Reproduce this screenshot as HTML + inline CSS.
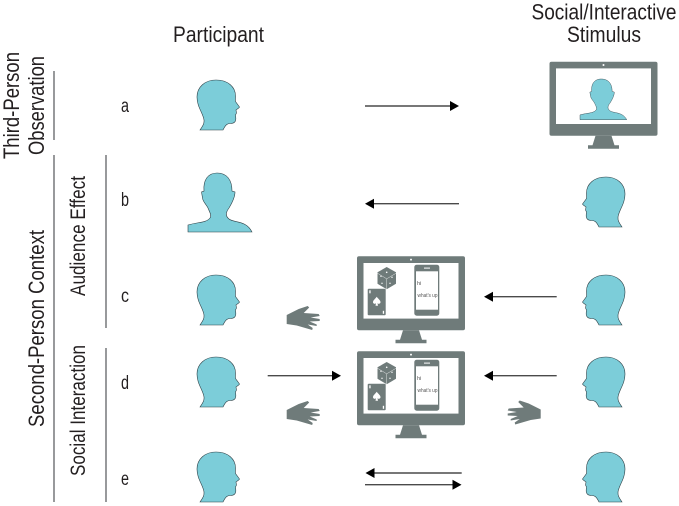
<!DOCTYPE html>
<html><head><meta charset="utf-8">
<style>html,body{margin:0;padding:0;background:#fff}svg{display:block}
text{font-family:"Liberation Sans Narrow","Liberation Sans",sans-serif;fill:#231f20}
.t{font-size:22.5px}.m{font-size:21px}.l{font-size:19px}
.v{stroke:#6d6e71;stroke-width:1.4;fill:none}
.h{fill:#7ccdd9;stroke:#2f4046;stroke-width:.6}
.g{fill:#6f7b7a}.a{stroke:#4a4a4a;stroke-width:1.4}</style></head>
<body>
<svg width="679" height="506" viewBox="0 0 679 506" xmlns="http://www.w3.org/2000/svg">
<defs>
<path id="head" class="h" d="M3,50C5,47 7.5,44 7,40C6,33 0,27 0,17C0,7 8,0 19,0C31,0 38.5,7 38.5,16C38.5,18 38.3,20 38.5,21.5L42.5,27C42,28.5 40,29 39,30L39.5,33L38.5,35L38.8,38C39,42 37,43.5 33,43.5C30,43.5 28.5,45 26,50Z"/>
<path id="bust" class="h" d="M0,59L0,52C10,49 18,50 22,45C24,42 21,38 20,35C18,31 15,29 14.5,25L13.5,19L16,18C15,7 20,0 29,0C39,0 44,7 44,18L47,19C47,24 44,30 41,35C38,39 37,43 41,46C46,50 58,47 64,59Z"/>
<path id="hand" class="g" d="M0,9L12,3L21,0L22.5,1.5L17,7L32,8L33,10L24,11.5L33,13L33,15L23,15.5L30,18.5L30,20L21,18.5L26,22L25.5,24L10,19.5L0,18Z"/>
<g id="mon">
<rect x="0" y="0" width="108" height="74" rx="2" class="g"/>
<rect x="6.5" y="6.7" width="95" height="55.6" fill="#fff"/>
<circle cx="54" cy="3.3" r="1" fill="#fff"/>
<path class="g" d="M46,74H62L65,83.5H69.5V87H38.5V83.5H43Z"/>
</g>
<g id="cont">
<path class="g" d="M29.7,10.7L39,16V27.5L29.7,33L20.5,27.5V16Z"/>
<g fill="#fff"><circle cx="29.7" cy="16" r=".8"/><circle cx="24" cy="20" r=".7"/><circle cx="25" cy="27" r=".7"/><circle cx="35" cy="21" r=".7"/><circle cx="33" cy="27" r=".7"/></g>
<path d="M20.5,17L29.7,22.5L39,17M29.7,22.5V33" stroke="#fff" stroke-width=".4" fill="none"/>
<rect x="10.7" y="32.4" width="18" height="26.6" rx="1" class="g"/>
<path fill="#fff" d="M19.7,40.5C21.5,43 23.5,44 23.5,46C23.5,47.5 21.5,48 20.5,47L21,49.5H18.5L19,47C18,48 16,47.5 16,46C16,44 18,43 19.7,40.5Z"/>
<g fill="#fff"><rect x="12.3" y="34" width="1.3" height="3"/><rect x="25.8" y="54.5" width="1.3" height="3"/></g>
<rect x="57.3" y="8.4" width="25" height="51" rx="2.5" class="g"/>
<rect x="59" y="15" width="22" height="38.4" fill="#fff"/>
<rect x="67" y="11.3" width="6" height="1" fill="#fff"/>
<text x="60" y="28.5" style="font-size:5.5px;fill:#555">hi</text>
<text x="60.5" y="40.5" textLength="20" lengthAdjust="spacingAndGlyphs" style="font-size:5.5px;fill:#555">what's up</text>
</g>
<polygon id="ar" points="0,-5 9,0 0,5" fill="#000"/>
</defs>

<!-- headers -->
<text class="t" x="173" y="42" textLength="91" lengthAdjust="spacingAndGlyphs">Participant</text>
<text class="t" x="531.5" y="19.5" textLength="145" lengthAdjust="spacingAndGlyphs">Social/Interactive</text>
<text class="t" x="567" y="42" textLength="74" lengthAdjust="spacingAndGlyphs">Stimulus</text>
<text class="t" transform="translate(19,159) rotate(-90)" textLength="107" lengthAdjust="spacingAndGlyphs">Third-Person</text>
<text class="t" transform="translate(44,155) rotate(-90)" textLength="99" lengthAdjust="spacingAndGlyphs">Observation</text>
<text class="t" transform="translate(44,427) rotate(-90)" textLength="197" lengthAdjust="spacingAndGlyphs">Second-Person Context</text>
<text class="m" transform="translate(85,296) rotate(-90)" textLength="120" lengthAdjust="spacingAndGlyphs">Audience Effect</text>
<text class="m" transform="translate(85,476) rotate(-90)" textLength="131" lengthAdjust="spacingAndGlyphs">Social Interaction</text>

<!-- brackets -->
<path class="v" d="M54,71V140M54,155V502M106,155V328M106,348V502"/>

<!-- letters -->
<text class="l" x="121" y="112" textLength="8" lengthAdjust="spacingAndGlyphs">a</text>
<text class="l" x="121" y="206" textLength="8" lengthAdjust="spacingAndGlyphs">b</text>
<text class="l" x="121" y="302" textLength="8" lengthAdjust="spacingAndGlyphs">c</text>
<text class="l" x="121" y="389" textLength="8" lengthAdjust="spacingAndGlyphs">d</text>
<text class="l" x="121" y="485" textLength="8" lengthAdjust="spacingAndGlyphs">e</text>

<!-- participant -->
<use href="#head" x="197" y="80"/>
<use href="#bust" x="188" y="173"/>
<use href="#head" x="197" y="275"/>
<use href="#head" x="197" y="357"/>
<use href="#head" x="197" y="452"/>

<!-- stimulus heads -->
<use href="#head" transform="translate(625,177) scale(-1,1)"/>
<use href="#head" transform="translate(625,275) scale(-1,1)"/>
<use href="#head" transform="translate(625,357) scale(-1,1)"/>
<use href="#head" transform="translate(625,452) scale(-1,1)"/>

<!-- monitors -->
<use href="#mon" x="549.5" y="61.7"/>
<use href="#bust" transform="translate(580,79) scale(.73,.69)"/>
<use href="#mon" x="357" y="256.3"/><use href="#cont" x="357" y="256.3"/>
<use href="#mon" x="357" y="351.3"/><use href="#cont" x="357" y="351.3"/>

<!-- hands -->
<use href="#hand" x="286.7" y="306"/>
<use href="#hand" x="286.7" y="401"/>
<use href="#hand" transform="translate(540.7,400.5) scale(-1,1)"/>

<!-- arrows -->
<path class="a" d="M365,106H451M459,203.7H373M556.7,296.7H492M267.7,375.7H333M556.7,375.7H492M461.7,473H374M365,484.7H453"/>
<use href="#ar" transform="translate(450,106)"/>
<use href="#ar" transform="translate(374,203.7) scale(-1,1)"/>
<use href="#ar" transform="translate(493,296.7) scale(-1,1)"/>
<use href="#ar" transform="translate(332,375.7)"/>
<use href="#ar" transform="translate(493,375.7) scale(-1,1)"/>
<use href="#ar" transform="translate(374.5,473) scale(-1,1)"/>
<use href="#ar" transform="translate(452.5,484.7)"/>
</svg>
</body></html>
